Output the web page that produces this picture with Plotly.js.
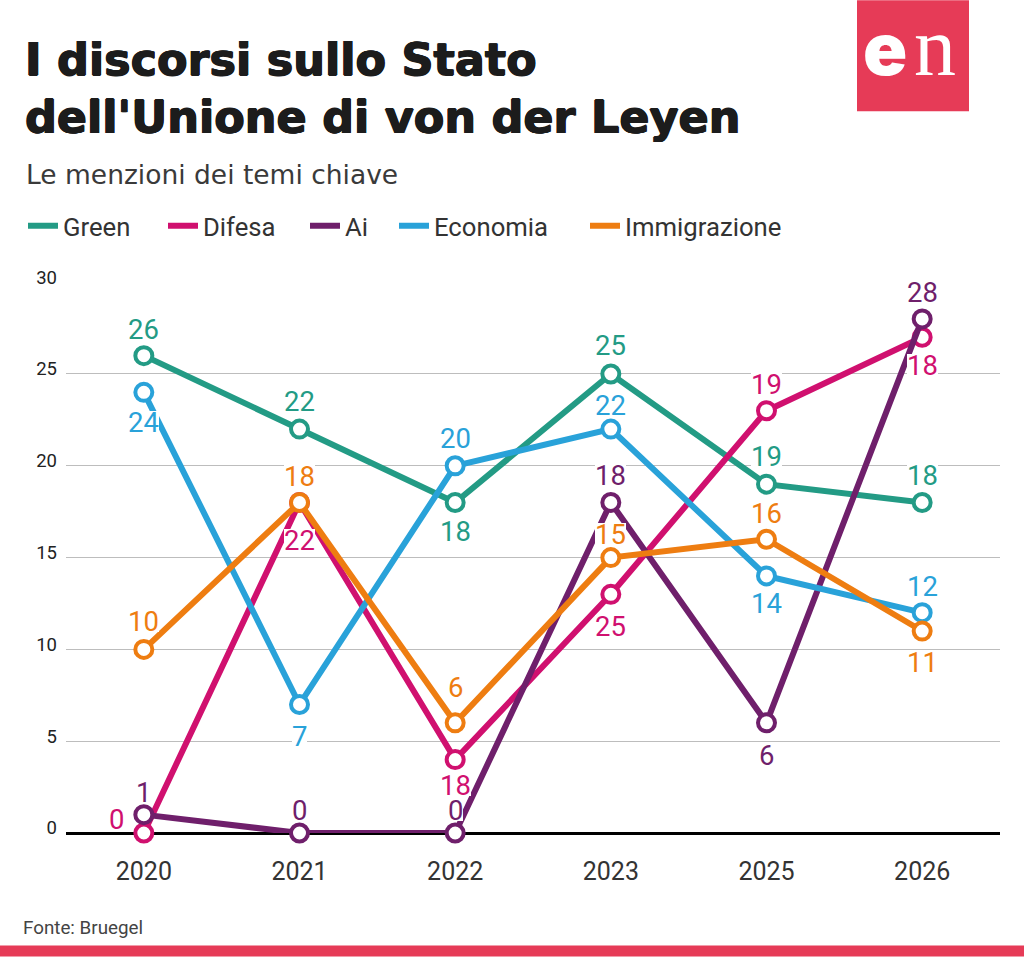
<!DOCTYPE html>
<html><head><meta charset="utf-8">
<script src="https://cdn.plot.ly/plotly-3.0.1.min.js"></script>
<style>html,body{margin:0;padding:0;background:#fff}#chart{width:1024px;height:957px}</style>
</head><body><div id="chart"></div>
<script>
const years = ['2020','2021','2022','2023','2025','2026'];
const seriesNames = ['Green','Difesa','Ai','Economia','Immigrazione'];
const seriesColors = ['#239B85','#D0106F','#6F1F6B','#29A2D9','#EE7D11'];

const green = [26,22,18,25,19,18];
const difesa = [0,18,4,13,23,27];
const ai = [1,0,0,18,6,28];
const economia = [24,7,20,22,14,12];
const immigrazione = [10,18,6,15,16,11];

const greenLabels = ['26','22','18','25','19','18'];
const difesaLabels = ['0','22','18','25','19','18'];
const aiLabels = ['1','0','0','18','6','28'];
const economiaLabels = ['24','7','20','22','14','12'];
const immigrazioneLabels = ['10','18','6','15','16','11'];

const greenDy = [-27,-28,28,-29,-28,-28];
const difesaDy = [-14,37,25,32,-27,28];
const aiDy = [-23,-23,-23,-28,32,-27];
const economiaDy = [30,32,-28,-24,27,-27];
const immigrazioneDy = [-28,-27,-36,-24,-26,31];
const difesaDx = [-27,0,0,0,0,0];

const legendStarts = [23,163,305,394,585];

const values = [green,difesa,ai,economia,immigrazione];
const labels = [greenLabels,difesaLabels,aiLabels,economiaLabels,immigrazioneLabels];
const dys = [greenDy,difesaDy,aiDy,economiaDy,immigrazioneDy];

const PH = 551.5, PW = 934;
const traces = [];
const annotations = [];
const legends = {};
values.forEach((vals,i)=>{
  const lname = i===0 ? 'legend' : 'legend'+(i+1);
  legends[lname] = {orientation:'h',x:(legendStarts[i]-66)/PW,xanchor:'left',y:1+(282-226)/PH,yanchor:'middle',
    font:{family:'Roboto',size:25.7,color:'#333'},itemwidth:30,bgcolor:'rgba(0,0,0,0)'};
  traces.push({type:'scatter',mode:'lines',x:years,y:vals,name:seriesNames[i],legend:lname,
    line:{color:seriesColors[i],width:6},cliponaxis:false,hoverinfo:'x+y+name'});
  traces.push({type:'scatter',mode:'markers',x:years,y:vals,name:seriesNames[i],showlegend:false,
    marker:{size:17,color:'#fff',line:{color:seriesColors[i],width:4}},cliponaxis:false,hoverinfo:'skip'});
  vals.forEach((v,j)=>{
    annotations.push({xref:'x',yref:'y',x:j,y:v,text:labels[i][j],showarrow:false,
      yshift:-dys[i][j],xshift:i===1?difesaDx[j]:0,
      font:{family:'Roboto',size:27.5,color:seriesColors[i]},bgcolor:'#fff',height:22,borderpad:0,borderwidth:0});
  });
});

annotations.push(
 {xref:'paper',yref:'paper',x:(24-66)/PW,y:1+(282-174)/PH,xanchor:'left',yanchor:'middle',showarrow:false,
  text:'Le menzioni dei temi chiave',font:{family:'DejaVu Sans',size:26.5,color:'#3a3a3a'}},
 {xref:'paper',yref:'paper',x:(21-66)/PW,y:-(929-833.5)/PH,xanchor:'left',yanchor:'middle',showarrow:false,
  text:'Fonte: Bruegel',font:{family:'Roboto',size:18.8,color:'#444'}},
 {xref:'paper',yref:'paper',x:(861-66)/PW,y:1+(282-47.5)/PH,xanchor:'left',yanchor:'middle',showarrow:false,height:66,
  text:'e',font:{family:'Inter',size:73,color:'#fff',weight:900}},
 {xref:'paper',yref:'paper',x:(912-66)/PW,y:1+(282-46)/PH,xanchor:'left',yanchor:'middle',showarrow:false,height:66,
  text:'n',font:{family:'Liberation Serif',size:84,color:'#fff'}}
);

const layout = Object.assign({
  width:1024,height:957,paper_bgcolor:'#fff',plot_bgcolor:'#fff',
  margin:{l:66,r:24,t:282,b:123.5},
  title:{text:"I discorsi sullo Stato<br>dell'Unione di von der Leyen",
    x:25/1024,xanchor:'left',xref:'container',yref:'container',y:1-75/957,yanchor:'top',
    font:{family:'DejaVu Sans',size:44.5,color:'#1c1c1c',weight:700,
      shadow:'0.7px 0 0 #1c1c1c, -0.7px 0 0 #1c1c1c, 0 0.5px 0 #1c1c1c, 0 -0.5px 0 #1c1c1c'}},
  showlegend:true,
  xaxis:{type:'category',categoryorder:'array',categoryarray:years,range:[-0.5,5.5],
    showgrid:false,zeroline:false,showline:false,ticks:'',ticklabelstandoff:21,
    tickfont:{family:'Roboto',size:25,color:'#333'}},
  yaxis:{range:[0,30.01],tick0:0,dtick:5,showgrid:true,gridcolor:'#bdbdbd',gridwidth:1,
    zeroline:true,zerolinecolor:'#000',zerolinewidth:2.5,showline:false,ticks:'',
    ticklabelshift:-5,ticklabelstandoff:8,tickfont:{family:'Roboto',size:18.5,color:'#222'}},
  shapes:[
   {type:'rect',xref:'paper',yref:'paper',x0:(857-66)/PW,x1:(969-66)/PW,y0:1+(282-111)/PH,y1:1+282/PH,
    fillcolor:'#E63B57',line:{width:0},layer:'below'},
   {type:'rect',xref:'paper',yref:'paper',x0:-66/PW,x1:958/PW,y0:-(946-833.5)/PH,y1:-(957-833.5)/PH,
    fillcolor:'#E63B57',line:{width:0},layer:'below'}
  ],
  annotations:annotations
}, legends);
Plotly.newPlot('chart',traces,layout,{displayModeBar:false,responsive:false});
</script></body></html>
